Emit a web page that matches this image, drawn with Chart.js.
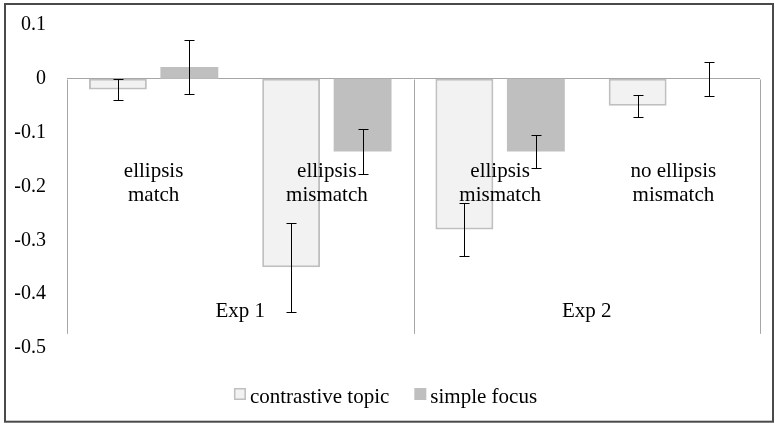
<!DOCTYPE html>
<html>
<head>
<meta charset="utf-8">
<script src="https://cdn.jsdelivr.net/npm/chart.js@4"></script>
<style>
  html, body { margin:0; padding:0; background:#fff; }
</style>
</head>
<body>
<canvas id="chart" width="775" height="425"></canvas>
<script>
const categories = [['ellipsis','match'], ['ellipsis','mismatch'], ['ellipsis','mismatch'], ['no ellipsis','mismatch']];
const groups = ['Exp 1', 'Exp 2'];
const groupSizes = [2, 2];
const seriesNames = ['contrastive topic', 'simple focus'];
const contrastive = [-0.02, -0.35, -0.28, -0.05];
const contrastiveErr = [0.02, 0.083, 0.05, 0.02];
const simple = [0.022, -0.135, -0.135, 0];
const simpleErr = [0.051, 0.042, 0.03, 0.031];
const yMin = -0.5, yMax = 0.1, yStep = 0.1;

const FONT = "'Liberation Serif', 'Times New Roman', serif";
const errors = [contrastiveErr, simpleErr];

// Error bars centred on each bar top, drawn through the value scale.
const errorBars = {
  id: 'errorBars',
  afterDatasetsDraw(chart) {
    const {ctx, scales: {y}} = chart;
    ctx.save();
    ctx.strokeStyle = '#000';
    ctx.lineWidth = 1;
    chart.data.datasets.forEach((ds, i) => {
      chart.getDatasetMeta(i).data.forEach((bar, j) => {
        const v = ds.data[j], e = errors[i][j];
        const x = Math.round(bar.x) + 0.5;
        const top = Math.round(y.getPixelForValue(v + e)) + 0.5;
        const bot = Math.round(y.getPixelForValue(v - e)) + 0.5;
        ctx.beginPath();
        ctx.moveTo(x, top); ctx.lineTo(x, bot);
        ctx.moveTo(x - 5, top); ctx.lineTo(x + 5, top);
        ctx.moveTo(x - 5, bot); ctx.lineTo(x + 5, bot);
        ctx.stroke();
      });
    });
    ctx.restore();
  }
};

// Excel-style two-level category axis hanging below the zero line, plus legend and frame.
const decorations = {
  id: 'decorations',
  afterDraw(chart) {
    const {ctx, chartArea, scales: {x, y}} = chart;
    const zeroY = y.getPixelForValue(0);
    const catW = (chartArea.right - chartArea.left) / categories.length;
    ctx.save();

    // group separators
    ctx.strokeStyle = '#a6a6a6';
    ctx.lineWidth = 1;
    let k = 0;
    const bounds = [0];
    groupSizes.forEach(n => { k += n; bounds.push(k); });
    bounds.forEach(b => {
      const bx = Math.round(chartArea.left + b * catW) + 0.5;
      ctx.beginPath();
      ctx.moveTo(bx, Math.round(zeroY) + 0.5);
      ctx.lineTo(bx, zeroY + 255);
      ctx.stroke();
    });

    // category labels
    ctx.fillStyle = '#000';
    ctx.textAlign = 'center';
    ctx.textBaseline = 'alphabetic';
    ctx.font = `21px ${FONT}`;
    categories.forEach((lines, i) => {
      const cx = x.getPixelForValue(i);
      lines.forEach((t, li) => ctx.fillText(t, cx, zeroY + 98 + li * 24));
    });

    // group labels
    groups.forEach((g, gi) => {
      const gx = chartArea.left + (bounds[gi] + bounds[gi + 1]) / 2 * catW;
      ctx.fillText(g, gx, zeroY + 238.5);
    });

    // legend
    const ds = chart.data.datasets;
    ctx.textAlign = 'left';
    const widths = ds.map(d => ctx.measureText(d.label).width);
    const total = widths.reduce((a, w) => a + 16 + w, 0) + 25 * (ds.length - 1);
    let lx = chart.width / 2 - 2 - total / 2;
    ds.forEach((d, i) => {
      ctx.fillStyle = d.backgroundColor;
      ctx.fillRect(lx, 388, 12, 12);
      if (d.borderWidth) {
        ctx.strokeStyle = d.borderColor;
        ctx.lineWidth = 1.5;
        ctx.strokeRect(lx + 0.75, 388.75, 10.5, 10.5);
      }
      ctx.fillStyle = '#000';
      ctx.fillText(d.label, lx + 16, 403);
      lx += 16 + widths[i] + 25;
    });

    // outer frame
    ctx.strokeStyle = '#4a4a4a';
    ctx.lineWidth = 2;
    ctx.strokeRect(5, 4, 768, 417.7);
    ctx.restore();
  }
};

new Chart(document.getElementById('chart'), {
  type: 'bar',
  data: {
    labels: categories,
    datasets: [
      { label: seriesNames[0], data: contrastive, backgroundColor: '#f2f2f2', borderColor: '#bfbfbf', borderWidth: 2, borderSkipped: false },
      { label: seriesNames[1], data: simple, backgroundColor: '#bfbfbf', borderColor: '#bfbfbf', borderWidth: 0 }
    ]
  },
  options: {
    responsive: false,
    animation: false,
    devicePixelRatio: 1,
    categoryPercentage: 0.825,
    barPercentage: 0.81,
    layout: { padding: { top: 25, right: 15, bottom: 77, left: 0 } },
    plugins: { legend: { display: false }, tooltip: { enabled: false } },
    scales: {
      x: { display: false },
      y: {
        min: yMin, max: yMax, z: 1,
        afterFit: s => { s.width = 67; s.paddingTop = 0; s.paddingBottom = 0; },
        border: { display: false },
        grid: {
          drawTicks: false,
          lineWidth: 1,
          color: c => Math.abs(c.tick.value) < 1e-9 ? '#a6a6a6' : 'rgba(0,0,0,0)'
        },
        ticks: {
          stepSize: yStep,
          padding: 21,
          color: '#000',
          font: { family: FONT, size: 20 },
          callback: v => { const r = Math.round(v * 10) / 10; return r === 0 ? '0' : String(r); }
        }
      }
    }
  },
  plugins: [errorBars, decorations]
});
</script>
</body>
</html>
